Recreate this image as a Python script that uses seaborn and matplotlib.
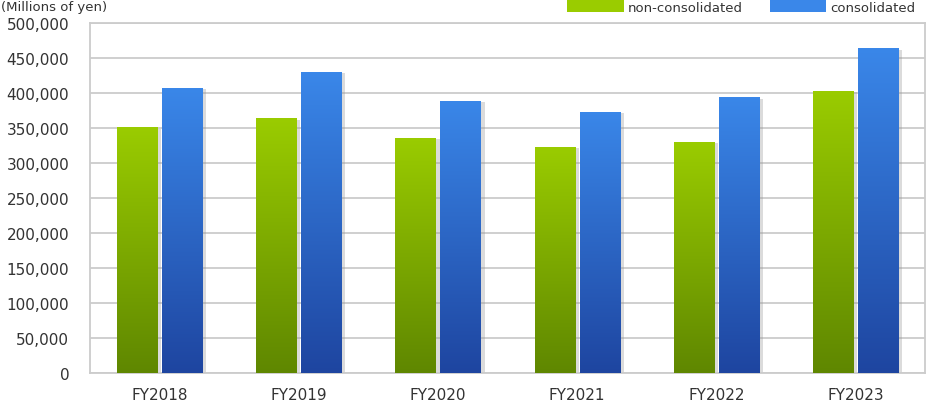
import matplotlib
matplotlib.use('Agg')
import matplotlib.pyplot as plt
import matplotlib.patheffects as pe
from matplotlib.colors import LinearSegmentedColormap
from matplotlib.patches import Patch
from matplotlib.ticker import FuncFormatter
import seaborn as sns
import numpy as np
import pandas as pd

years = ['FY2018', 'FY2019', 'FY2020', 'FY2021', 'FY2022', 'FY2023']
non_consolidated = [351000, 364000, 336000, 323000, 330000, 403000]
consolidated = [407000, 430000, 389000, 373000, 394000, 464000]
series = ['non-consolidated', 'consolidated']

df = pd.DataFrame({
    'year': years * 2,
    'series': [series[0]] * len(years) + [series[1]] * len(years),
    'value': non_consolidated + consolidated,
})

# top / bottom colours of the gradient fill
grad = {
    'non-consolidated': ('#9acc00', '#5f8700'),
    'consolidated': ('#3a87e9', '#1e45a0'),
}

sns.set_style('white')
plt.rcParams['font.family'] = ['DejaVu Sans']

fig = plt.figure(figsize=(9.3, 4.02), dpi=100)
ax = fig.add_axes([90 / 930, 28 / 402, 835 / 930, 350 / 402])

sns.barplot(data=df, x='year', y='value', hue='series', hue_order=series,
            palette=[grad[s][0] for s in series], width=0.647, gap=0.11,
            legend=False, ax=ax, zorder=2)

ax.set_yticks(np.arange(0, 500001, 50000))
ax.yaxis.set_major_formatter(FuncFormatter(lambda v, p: f'{int(v):,}'))
ax.grid(axis='y', color='#cccccc', linewidth=1.3, zorder=0)
ax.set_axisbelow(True)
for sp in ax.spines.values():
    sp.set_color('#cccccc')
    sp.set_linewidth(1.3)
ax.tick_params(axis='y', length=0, pad=15, labelsize=11, labelcolor='#333333')
ax.tick_params(axis='x', length=0, pad=10, labelsize=11, labelcolor='#333333')
ax.set_xlabel('')
ax.set_ylabel('')

# replace flat fills with vertical gradients
for container, s in zip(ax.containers, series):
    top_c, bot_c = grad[s]
    cmap = LinearSegmentedColormap.from_list(s, [bot_c, top_c])
    for bar in container:
        x0, y0 = bar.get_x(), bar.get_y()
        w, h = bar.get_width(), bar.get_height()
        bar.set_facecolor('none')
        bar.set_edgecolor('none')
        bar.set_path_effects([pe.SimplePatchShadow(offset=(3, -1), shadow_rgbFace='#999999', alpha=0.35)])
        img = ax.imshow(np.linspace(0, 1, 256).reshape(-1, 1), cmap=cmap, origin='lower',
                        extent=[x0, x0 + w, y0, y0 + h], aspect='auto', zorder=3)
        img.set_clip_path(bar)

ax.set_ylim(0, 500000)
ax.set_xlim(-0.5, len(years) - 0.5)

fig.text(0.001, 1 - 8 / 402, '(Millions of yen)', fontsize=9.5, color='#333333',
         ha='left', va='center')

handles = [Patch(facecolor=grad[s][0], edgecolor='none') for s in series]
fig.legend(handles, series, loc='upper right', bbox_to_anchor=(0.997, 1.026),
           ncol=2, frameon=False, fontsize=9.5, handlelength=4.3, handleheight=1.0,
           handletextpad=0.3, columnspacing=2.0, labelcolor='#333333')

fig.savefig('out.png', dpi=100)
